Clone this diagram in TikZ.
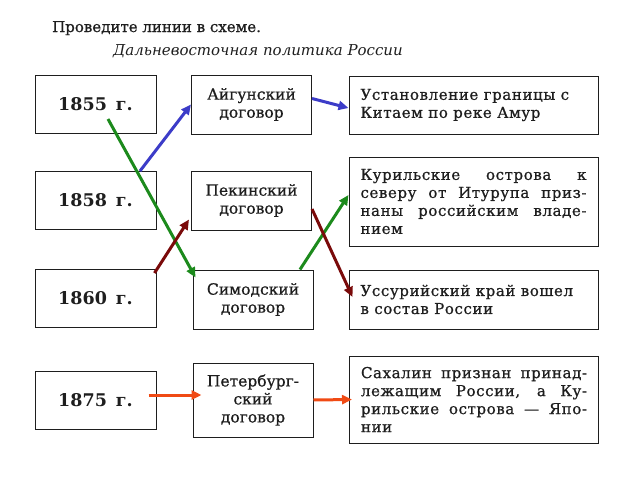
\documentclass[tikz,border=0pt]{standalone}
\usepackage{fontspec}
\setmainfont{DejaVu Serif}
\usetikzlibrary{arrows.meta}
\definecolor{schemeink}{HTML}{1E1E1E}
\definecolor{linkblue}{HTML}{3C3CC8}
\definecolor{linkgreen}{HTML}{1C8A1C}
\definecolor{linkred}{HTML}{7A0A0A}
\definecolor{linkorange}{HTML}{F04A14}

\begin{document}
\begin{tikzpicture}[
  x=1pt,
  y=-1pt,
  every node/.style={schemeink},
  yearbox/.style={draw=schemeink, line width=1pt, minimum width=121pt,
    minimum height=58pt, inner sep=0pt,
    font=\fontsize{17.5}{20}\selectfont\bfseries},
  treatybox/.style={draw=schemeink, line width=1pt, minimum width=120pt,
    minimum height=59pt, inner sep=0pt, align=center,
    font=\fontsize{15.5}{18}\selectfont\addfontfeature{FakeBold=0.8}},
  resultbox/.style={draw=schemeink, line width=1pt, inner xsep=11.5pt,
    inner ysep=0pt, text width=226pt, align=justify,
    font=\fontsize{15}{18}\selectfont\addfontfeature{LetterSpace=4,
      FakeBold=0.8}},
  link/.style={line width=3pt, -{Triangle[length=10pt, width=9pt]}}
]
  \useasboundingbox (0,0) rectangle (638,479);

  % ================= heading ============================================
  \node[anchor=base west, inner sep=0pt,
        font=\fontsize{15}{17}\selectfont\addfontfeature{FakeBold=0.8}]
    (task) at (52,32) {Проведите линии в схеме.};
  \node[anchor=base west, inner sep=0pt,
        font=\fontsize{15}{17}\selectfont\itshape]
    (title) at (113,55) {Дальневосточная политика России};

  % ================= years ==============================================
  \node[yearbox] (y1855) at (95.5,104)   {1855\, г.};
  \node[yearbox] (y1858) at (95.5,200.5) {1858\, г.};
  \node[yearbox] (y1860) at (95.5,298.5) {1860\, г.};
  \node[yearbox] (y1875) at (95.5,400.5) {1875\, г.};

  % ================= treaties ===========================================
  \node[treatybox] (aigun)   at (251.5,104.5) {Айгунский\\договор};
  \node[treatybox] (peking)  at (251.5,200.5) {Пекинский\\договор};
  \node[treatybox] (shimoda) at (253,299.5)   {Симодский\\договор};
  \node[treatybox, minimum height=74pt]
    (peterb) at (253,400) {Петербург-\\ский\\договор};

  % ================= results ============================================
  \node[resultbox, minimum height=58pt] (amur) at (473.5,105)
    {Установление границы с\\Китаем по реке Амур};
  \node[resultbox, minimum height=89pt] (kuril) at (473.5,201.5)
    {Курильские острова к\linebreak
     северу от Итурупа приз-\linebreak
     наны российским владе-\linebreak
     нием};
  \node[resultbox, minimum height=59pt] (ussuri) at (473.5,299.5)
    {Уссурийский край вошел\\в состав России};
  \node[resultbox, minimum height=87pt] (sakhalin) at (474,399.5)
    {Сахалин признан принад-\linebreak
     лежащим России, а Ку-\linebreak
     рильские острова~--- Япо-\linebreak
     нии};

  % ================= links ==============================================
  \draw[link, linkblue] ([xshift=44.5pt]y1858.north) -- (aigun.west);
  \draw[link, linkblue] ([yshift=6pt]aigun.east) -- ([yshift=-3pt]amur.west);

  \draw[link, linkgreen] ([xshift=12.5pt, yshift=-15pt]y1855.center)
    -- ([xshift=3pt, yshift=-8pt]shimoda.north west);
  \draw[link, linkgreen] ([xshift=47pt]shimoda.north)
    -- ([yshift=6.5pt]kuril.west);

  \draw[link, linkred] ([xshift=-2pt, yshift=-4pt]y1860.north east)
    -- ([xshift=-2pt, yshift=11pt]peking.south west);
  \draw[link, linkred] ([yshift=-8.5pt]peking.east)
    -- ([xshift=4pt, yshift=2.5pt]ussuri.west);

  \draw[link, linkorange] ([xshift=-8pt, yshift=5.5pt]y1875.east)
    -- ([xshift=9pt, yshift=5pt]peterb.west);
  \draw[link, linkorange] (peterb.east) -- ([xshift=3pt]sakhalin.west);
\end{tikzpicture}
\end{document}
